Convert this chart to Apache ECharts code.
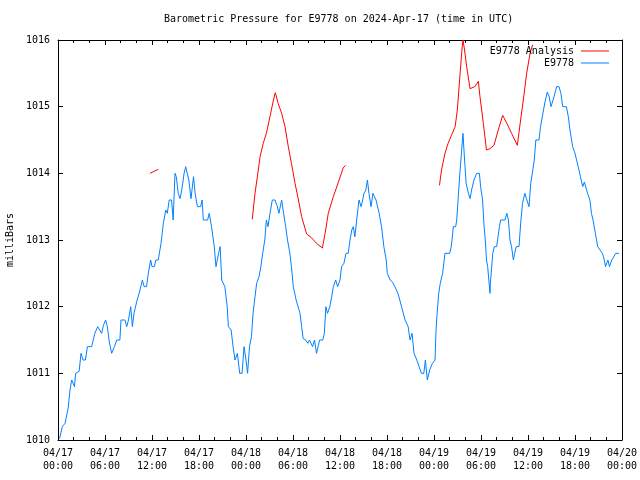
<!DOCTYPE html>
<html>
<head>
<meta charset="utf-8">
<script src="https://cdn.jsdelivr.net/npm/echarts@6/dist/echarts.min.js"></script>
<style>html,body{margin:0;padding:0;background:#fff}#c{width:640px;height:480px}</style>
</head>
<body>
<div id="c"></div>
<script>
// X tick labels, every 6 hours from 2024-04-17 00:00 UTC
const tickLabels = ['04/17\n00:00','04/17\n06:00','04/17\n12:00','04/17\n18:00','04/18\n00:00','04/18\n06:00','04/18\n12:00','04/18\n18:00','04/19\n00:00','04/19\n06:00','04/19\n12:00','04/19\n18:00','04/20\n00:00'];

// E9778 observed pressure: hours since 04/17 00:00 UTC, and mbar
const blueHours = [0.2,0.55,0.9,1.3,1.53,1.75,2.1,2.25,2.7,2.94,3.2,3.5,3.75,4.3,4.7,5.07,5.3,5.57,5.8,6.08,6.3,6.55,6.85,7.2,7.5,7.9,8.04,8.55,8.77,9.0,9.28,9.5,9.7,10.04,10.47,10.77,11.0,11.3,11.53,11.83,12.0,12.3,12.5,12.8,13.15,13.45,13.75,13.95,14.2,14.5,14.7,14.94,15.1,15.35,15.57,15.8,16.1,16.3,16.5,16.7,16.98,17.3,17.5,17.8,18.2,18.4,18.55,19.1,19.3,19.6,19.95,20.17,20.5,20.7,20.9,21.3,21.6,21.75,22.1,22.35,22.6,22.9,23.2,23.5,23.75,24.0,24.2,24.45,24.7,24.9,25.15,25.36,25.66,25.9,26.13,26.4,26.6,26.8,27.06,27.36,27.7,28.0,28.2,28.55,28.8,29.06,29.3,29.6,29.8,30.04,30.4,30.6,30.9,31.1,31.3,31.6,31.9,32.1,32.5,32.75,33.0,33.2,33.4,33.8,34.0,34.2,34.4,34.7,34.94,35.15,35.45,35.7,36.0,36.2,36.5,36.77,37.05,37.28,37.5,37.7,37.9,38.13,38.43,38.7,38.9,39.06,39.3,39.5,39.7,39.96,40.2,40.4,40.6,41.0,41.3,41.6,41.9,42.04,42.4,42.7,43.0,43.4,43.86,44.3,44.7,44.94,45.2,45.45,45.8,46.1,46.4,46.7,46.9,47.15,47.45,47.8,48.13,48.26,48.4,48.6,48.8,49.1,49.4,50.0,50.2,50.3,50.47,50.77,50.9,51.1,51.3,51.5,51.7,51.85,52.1,52.4,52.6,52.8,53.1,53.45,53.8,53.95,54.2,54.4,54.55,54.7,54.85,55.15,55.2,55.5,55.7,56.0,56.35,56.5,57.05,57.3,57.5,57.7,57.9,58.13,58.3,58.5,58.85,59.1,59.3,59.6,59.8,60.13,60.35,60.55,60.8,61.0,61.4,61.6,61.9,62.17,62.46,62.7,62.94,63.2,63.4,63.66,63.96,64.2,64.43,64.9,65.15,65.36,65.7,66.0,66.2,66.4,66.7,66.98,67.2,67.4,67.6,67.9,68.1,68.3,68.6,68.9,69.2,69.5,69.74,69.9,70.2,70.4,70.7,70.9,71.2,71.6];
const blueValues = [1010.02,1010.2,1010.25,1010.48,1010.75,1010.9,1010.8,1011.0,1011.03,1011.3,1011.2,1011.2,1011.4,1011.4,1011.6,1011.7,1011.7,1011.6,1011.72,1011.8,1011.7,1011.47,1011.3,1011.4,1011.5,1011.5,1011.8,1011.8,1011.7,1011.8,1012.0,1011.7,1011.9,1012.07,1012.25,1012.4,1012.3,1012.3,1012.5,1012.7,1012.6,1012.6,1012.7,1012.7,1012.95,1013.25,1013.45,1013.4,1013.6,1013.6,1013.3,1014.0,1013.95,1013.7,1013.62,1013.75,1014.0,1014.1,1014.1,1013.9,1013.62,1013.95,1013.7,1013.5,1013.5,1013.6,1013.3,1013.3,1013.4,1013.2,1012.9,1012.6,1012.8,1012.9,1012.4,1012.3,1012.0,1011.7,1011.65,1011.4,1011.2,1011.3,1011.0,1011.0,1011.4,1011.2,1011.0,1011.4,1011.55,1011.9,1012.15,1012.35,1012.45,1012.6,1012.8,1013.0,1013.3,1013.2,1013.4,1013.6,1013.6,1013.5,1013.4,1013.6,1013.4,1013.2,1013.0,1012.8,1012.6,1012.3,1012.1,1012.1,1011.9,1011.7,1011.52,1011.5,1011.45,1011.5,1011.4,1011.5,1011.3,1011.3,1011.5,1011.5,1011.6,1012.0,1011.9,1012.0,1012.15,1012.3,1012.4,1012.3,1012.4,1012.6,1012.65,1012.8,1012.8,1013.0,1013.15,1013.2,1013.05,1013.3,1013.6,1013.5,1013.6,1013.7,1013.75,1013.9,1013.7,1013.5,1013.7,1013.7,1013.6,1013.4,1013.2,1012.9,1012.7,1012.5,1012.4,1012.37,1012.3,1012.2,1012.0,1011.8,1011.7,1011.5,1011.6,1011.3,1011.2,1011.1,1011.0,1011.0,1011.2,1010.9,1011.05,1011.15,1011.2,1011.65,1011.9,1012.2,1012.35,1012.5,1012.8,1012.8,1012.9,1013.0,1013.2,1013.2,1013.3,1013.65,1014.0,1014.3,1014.6,1014.3,1013.85,1013.7,1013.62,1013.75,1013.9,1014.0,1014.0,1013.8,1013.6,1013.2,1013.0,1012.7,1012.6,1012.2,1012.35,1012.8,1012.9,1012.9,1013.2,1013.3,1013.3,1013.4,1013.3,1013.0,1012.9,1012.7,1012.8,1012.9,1012.9,1013.3,1013.55,1013.7,1013.62,1013.5,1013.85,1014.0,1014.2,1014.5,1014.5,1014.7,1014.9,1015.07,1015.22,1015.15,1015.0,1015.1,1015.1,1015.3,1015.3,1015.2,1015.0,1015.0,1014.85,1014.65,1014.4,1014.3,1014.2,1014.1,1013.95,1013.8,1013.87,1013.9,1013.7,1013.6,1013.4,1013.3,1013.1,1012.9,1012.85,1012.8,1012.7,1012.6,1012.7,1012.6,1012.7,1012.7,1012.8,1012.8];

// E9778 Analysis: hours and mbar, null marks a gap
const redHours = [11.74,12.8,18,24.8,25.15,25.57,25.8,26.2,26.6,27.06,27.5,27.74,28.1,28.55,28.98,29.4,29.8,30.26,30.7,31.1,31.74,32.4,33.0,33.75,34.1,34.5,35.15,35.8,36.4,36.7,42,48.7,48.96,49.4,49.8,50.26,50.7,50.98,51.3,51.6,51.7,51.9,52.17,52.6,53.2,53.66,53.87,54.3,54.7,55.15,55.66,56.2,56.77,57.3,57.9,58.64,59.0,59.4,59.83,60.26,60.6];
const redValues = [1014.0,1014.06,null,1013.31,1013.7,1014.05,1014.25,1014.45,1014.6,1014.85,1015.1,1015.21,1015.05,1014.9,1014.7,1014.4,1014.15,1013.85,1013.6,1013.35,1013.09,1013.03,1012.95,1012.88,1013.1,1013.4,1013.65,1013.87,1014.08,1014.12,null,1013.82,1014.05,1014.3,1014.45,1014.58,1014.7,1014.95,1015.45,1015.9,1016.0,1015.85,1015.6,1015.27,1015.3,1015.38,1015.15,1014.75,1014.35,1014.37,1014.42,1014.65,1014.87,1014.75,1014.6,1014.42,1014.75,1015.1,1015.5,1015.8,1015.93];

const FONT = '"DejaVu Sans Mono", "Liberation Mono", monospace';
const blueData = blueHours.map((h, i) => [h, blueValues[i]]);
const redData = redHours.map((h, i) => [h, redValues[i] === null ? '-' : redValues[i]]);

const chart = echarts.init(document.getElementById('c'), null, {renderer: 'canvas'});
const axisLine = {show: true, onZero: false, lineStyle: {color: '#000', width: 1}};
const xBase = {
  type: 'value', min: 0, max: 72, interval: 6,
  axisLine: axisLine,
  axisTick: {show: true, inside: true, length: 5, lineStyle: {color: '#000'}},
  minorTick: {show: true, splitNumber: 3, length: 3, lineStyle: {color: '#000'}},
  splitLine: {show: false}, minorSplitLine: {show: false}
};
const yBase = {
  type: 'value', min: 1010, max: 1016, interval: 1,
  axisLine: axisLine,
  axisTick: {show: true, inside: true, length: 5, lineStyle: {color: '#000'}},
  splitLine: {show: false}
};
const legendBase = {
  right: 31, itemWidth: 28, itemHeight: 1, itemGap: 0, padding: 0, align: 'right', icon: 'rect',
  textStyle: {fontFamily: FONT, fontSize: 10, color: '#000', padding: [0, 2, 0, 0]}
};
chart.setOption({
  backgroundColor: '#fff',
  animation: false,
  title: {
    text: 'Barometric Pressure for E9778 on 2024-Apr-17 (time in UTC)',
    left: 164, top: 14, padding: 0,
    textStyle: {fontFamily: FONT, fontSize: 10, fontWeight: 'normal', color: '#000'}
  },
  legend: [
    Object.assign({}, legendBase, {top: 46, data: ['E9778 Analysis']}),
    Object.assign({}, legendBase, {top: 58, data: ['E9778']})
  ],
  grid: {left: 58, right: 18, top: 40, bottom: 40, containLabel: false, outerBoundsMode: 'none'},
  xAxis: [
    Object.assign({}, xBase, {
      position: 'bottom',
      axisLabel: {show: true, margin: 7, fontFamily: FONT, fontSize: 10, color: '#000', lineHeight: 13,
        showMinLabel: true, showMaxLabel: true, hideOverlap: false,
        formatter: v => tickLabels[Math.round(v / 6)] || ''}
    }),
    Object.assign({}, xBase, {position: 'top', axisLabel: {show: false}})
  ],
  yAxis: [
    Object.assign({}, yBase, {
      position: 'left',
      name: 'milliBars', nameLocation: 'middle', nameGap: 41, nameRotate: 90,
      nameTextStyle: {fontFamily: FONT, fontSize: 10, color: '#000'},
      axisLabel: {show: true, margin: 8, fontFamily: FONT, fontSize: 10, color: '#000',
        showMinLabel: true, showMaxLabel: true, formatter: v => String(v)}
    }),
    Object.assign({}, yBase, {position: 'right', axisLabel: {show: false}})
  ],
  series: [
    {name: 'E9778 Analysis', type: 'line', data: redData, symbol: 'none', showSymbol: false,
      connectNulls: false, clip: true, lineStyle: {color: '#ff0000', width: 1}, itemStyle: {color: '#ff0000'}, z: 3},
    {name: 'E9778', type: 'line', data: blueData, symbol: 'none', showSymbol: false,
      clip: true, lineStyle: {color: '#0080ff', width: 1}, itemStyle: {color: '#0080ff'}, z: 2}
  ]
});
</script>
</body>
</html>
